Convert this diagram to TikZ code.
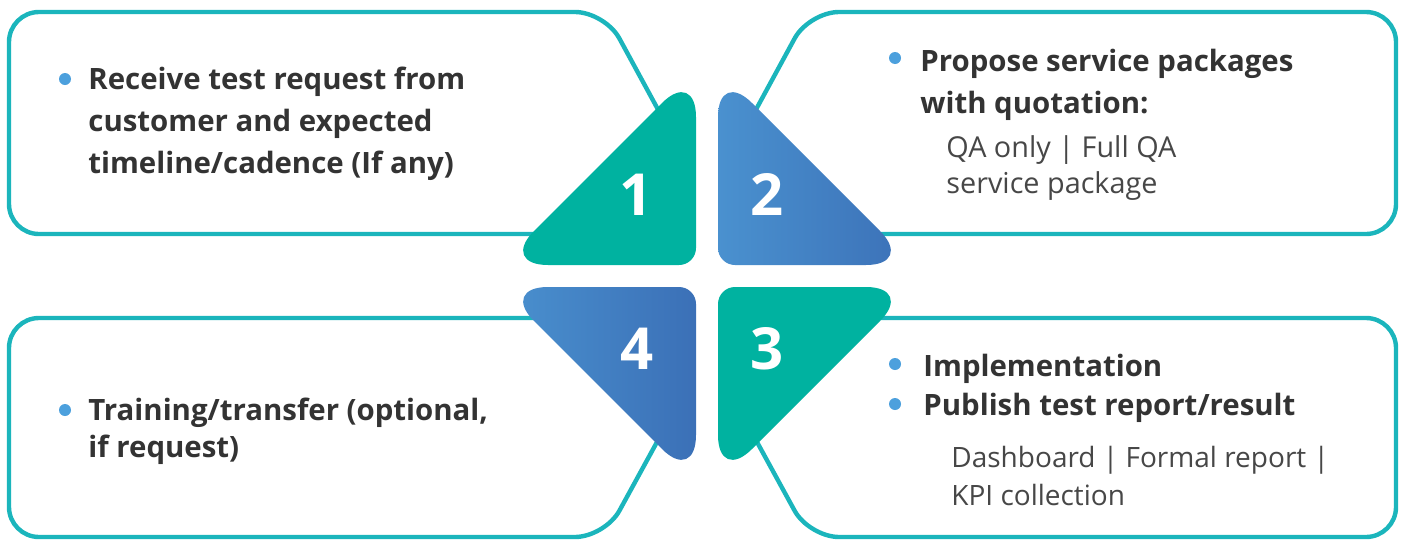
\documentclass[tikz,border=0pt]{standalone}
\usepackage{fontspec}
\setmainfont{Open Sans}
\definecolor{boxline}{HTML}{1BB5BC}
\definecolor{stepgreen}{HTML}{00B2A0}
\definecolor{steplight}{HTML}{4A91CF}
\definecolor{stepdark}{HTML}{3B70B7}
\definecolor{dotblue}{HTML}{4CA0DD}
\definecolor{textdark}{HTML}{333333}
\tikzset{
  stepbox/.style={draw=boxline, line width=2.2pt, fill=white},
  greentri/.style={fill=stepgreen},
  bluetri/.style={left color=steplight, right color=stepdark},
  stepnum/.style={text=white, anchor=base, inner sep=0pt, font=\fontsize{29}{30}\selectfont\bfseries},
  bulletdot/.style={circle, fill=dotblue, inner sep=0pt, minimum size=6pt},
  headtext/.style={anchor=base west, align=left, text=textdark, inner sep=0pt, font=\fontsize{14.7}{21}\selectfont\bfseries},
  subtext/.style={anchor=base west, align=left, text=textdark!90, inner sep=0pt, font=\fontsize{14.4}{18}\selectfont},
}
\begin{document}
\begin{tikzpicture}[x=0.5pt, y=-0.5pt]
\useasboundingbox (0,0) rectangle (1408,541);
% outline boxes
\draw[stepbox] (9,123) [rounded corners=15pt] -- (9,12) -- (605,12) [rounded corners=7pt] -- (680,150) [rounded corners=15pt] -- (680,234) -- (9,234) -- cycle;
\draw[stepbox] (1396,123) [rounded corners=15pt] -- (1396,12) -- (809,12) [rounded corners=7pt] -- (734,150) [rounded corners=15pt] -- (734,234) -- (1396,234) -- cycle;
\draw[stepbox] (1396,427) [rounded corners=15pt] -- (1396,537) -- (809,537) [rounded corners=7pt] -- (734,400) [rounded corners=15pt] -- (734,318) -- (1396,318) -- cycle;
\draw[stepbox] (9,427) [rounded corners=15pt] -- (9,537) -- (605,537) [rounded corners=7pt] -- (680,400) [rounded corners=15pt] -- (680,318) -- (9,318) -- cycle;
% triangles
\path[greentri] (597,265) [rounded corners=24pt] -- (500,265) -- (696,69) [rounded corners=8.5pt] -- (696,265) [rounded corners=0pt] -- cycle;
\path[bluetri] (817,265) [rounded corners=8.5pt] -- (718,265) [rounded corners=24pt] -- (718,69) -- (914,265) [rounded corners=0pt] -- cycle;
\path[greentri] (817,287) [rounded corners=8.5pt] -- (718,287) [rounded corners=24pt] -- (718,483) -- (914,287) [rounded corners=0pt] -- cycle;
\path[bluetri] (597,287) [rounded corners=24pt] -- (500,287) -- (696,483) [rounded corners=8.5pt] -- (696,287) [rounded corners=0pt] -- cycle;
\node[stepnum] (n1) at (636,215) {1};
\node[stepnum] (n2) at (767,215) {2};
\node[stepnum] (n3) at (767,369) {3};
\node[stepnum] (n4) at (637,369) {4};
% texts (anchored at the last line)
\node[bulletdot] (d1) at (65,79) {};
\node[headtext] (t1) at (88,173) {Receive test request from\\customer and expected\\timeline/cadence (If any)};
\node[bulletdot] (d2) at (895,58) {};
\node[headtext] (t2) at (920,113) {Propose service packages\\with quotation:};
\node[subtext] (s2) at (946,193) {QA only | Full QA\\service package};
\node[bulletdot] (d3a) at (895,364) {};
\node[bulletdot] (d3b) at (895,404) {};
\node[headtext, font=\fontsize{14.7}{19.5}\selectfont\bfseries] (t3) at (923,415) {Implementation\\Publish test report/result};
\node[subtext, font=\fontsize{14}{19}\selectfont] (s3) at (951,505) {Dashboard | Formal report |\\KPI collection};
\node[bulletdot] (d4) at (65,410) {};
\node[headtext, font=\fontsize{14.7}{18.5}\selectfont\bfseries] (t4) at (88,457) {Training/transfer (optional,\\if request)};
\end{tikzpicture}
\end{document}
